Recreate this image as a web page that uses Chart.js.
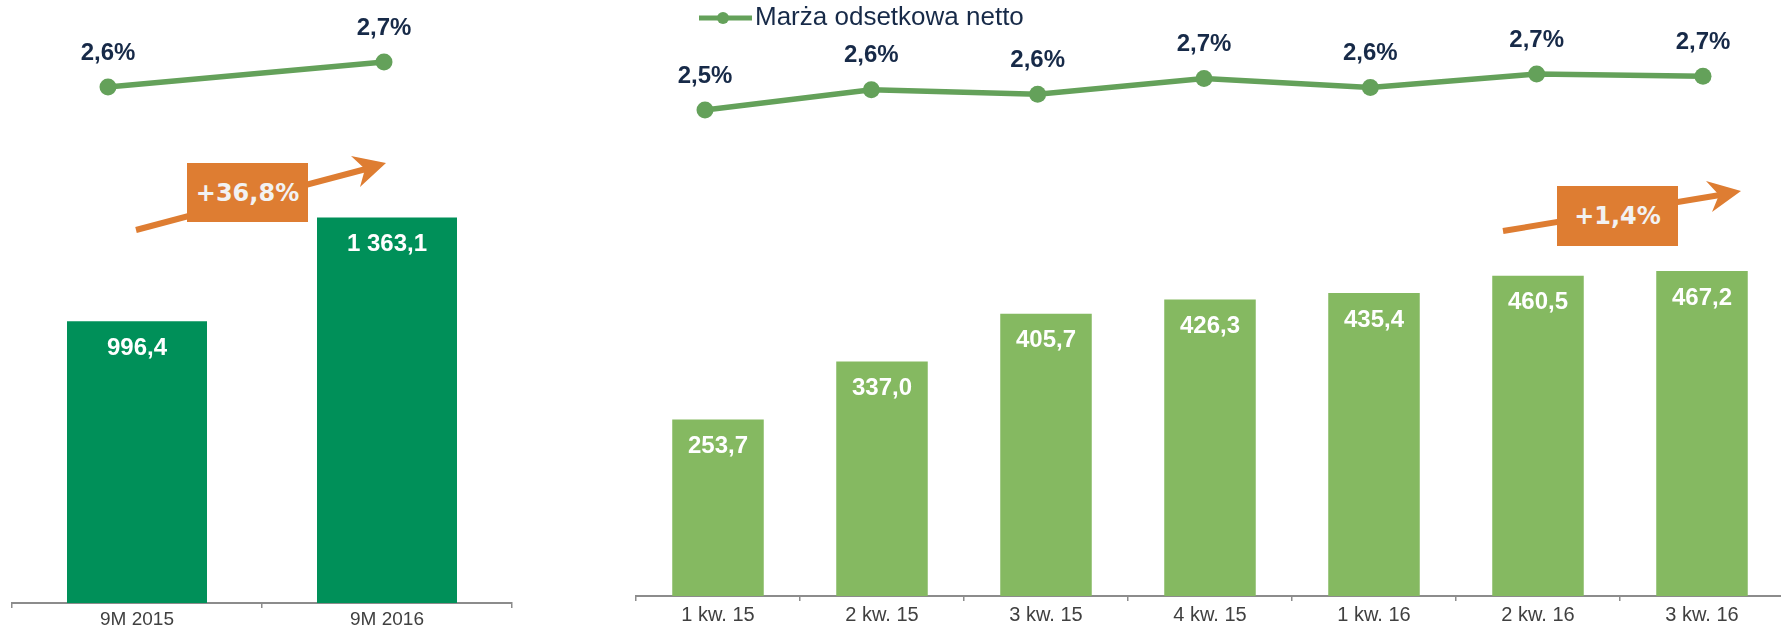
<!DOCTYPE html>
<html lang="pl">
<head>
<meta charset="utf-8">
<title>Wynik odsetkowy i marża odsetkowa netto</title>
<script src="https://cdn.jsdelivr.net/npm/chart.js@4.4.1/dist/chart.umd.min.js"></script>
<style>
  html, body { margin: 0; padding: 0; background: #fff; }
  body { width: 1781px; height: 625px; overflow: hidden; position: relative; }
  canvas { position: absolute; }
  svg.arrows { position: absolute; left: 0; top: 0; }
  .badge {
    position: absolute;
    background: #de7d32;
    color: #f2f2f2;
    font: bold 24px "DejaVu Sans", Verdana, sans-serif;
    display: flex; align-items: center; justify-content: center;
  }
</style>
</head>
<body>
<canvas id="leftLine" width="520" height="130" style="left:0;top:0"></canvas>
<canvas id="leftBar" width="520" height="481" style="left:0;top:150px"></canvas>
<canvas id="rightLine" width="1131" height="140" style="left:650px;top:0"></canvas>
<canvas id="rightBar" width="1170" height="479" style="left:626px;top:150px"></canvas>

<svg class="arrows" width="1781" height="625">
  <line x1="136" y1="230" x2="366" y2="169" stroke="#de7d32" stroke-width="6"/>
  <polygon points="386,163 351,156 365,169 360,187" fill="#de7d32"/>
  <line x1="1503" y1="231" x2="1720" y2="195" stroke="#de7d32" stroke-width="6"/>
  <polygon points="1741,191 1706,181 1719,195 1712,212" fill="#de7d32"/>
</svg>
<div class="badge" style="left:187px;top:163px;width:121px;height:59px">+36,8%</div>
<div class="badge" style="left:1557px;top:186px;width:121px;height:60px">+1,4%</div>

<script>
// dane
const periods = ["9M 2015", "9M 2016"];
const incomePeriods = [996.4, 1363.1];
const marginPeriods = [2.6, 2.7];

const quarters = ["1 kw. 15", "2 kw. 15", "3 kw. 15", "4 kw. 15", "1 kw. 16", "2 kw. 16", "3 kw. 16"];
const incomeQuarters = [253.7, 337.0, 405.7, 426.3, 435.4, 460.5, 467.2];
const marginQuarters = [2.52, 2.61, 2.59, 2.66, 2.62, 2.68, 2.67];

const FONT = "'Liberation Sans', Arial, sans-serif";
const LINE = "#64a15a";
const NAVY = "#172a48";
const GRID = "#8c8c8c";

function fmtNum(v) {
    const parts = v.toFixed(1).split(".");
    return parts[0].replace(/\B(?=(\d{3})+(?!\d))/g, " ") + "," + parts[1];
}

function fmtPct(v) {
    return v.toFixed(1).replace(".", ",") + "%";
}

// etykiety wartości rysowane przy elementach
function valueLabels(font, color, dy, format) {
    return {
        id: "valueLabels",
        afterDatasetsDraw(chart) {
            const ctx = chart.ctx;
            chart.data.datasets.forEach((ds, i) => {
                chart.getDatasetMeta(i).data.forEach((el, j) => {
                    const raw = ds.data[j];
                    const v = typeof raw === "object" ? raw.y : raw;
                    ctx.save();
                    ctx.font = font;
                    ctx.fillStyle = color;
                    ctx.textAlign = "center";
                    ctx.textBaseline = "middle";
                    ctx.fillText(format(v), el.x, el.y + dy);
                    ctx.restore();
                });
            });
        }
    };
}

// znacznik legendy: linia z kropką
const marker = document.createElement("canvas");
marker.width = 58;
marker.height = 14;
(function () {
    const c = marker.getContext("2d");
    c.strokeStyle = LINE;
    c.lineWidth = 5;
    c.beginPath();
    c.moveTo(0, 7);
    c.lineTo(58, 7);
    c.stroke();
    c.fillStyle = LINE;
    c.beginPath();
    c.arc(29, 7, 6, 0, Math.PI * 2);
    c.fill();
})();

const lineStyle = {
    borderColor: LINE,
    backgroundColor: LINE,
    pointBackgroundColor: LINE,
    borderWidth: 5.5,
    pointRadius: 8.5,
    pointBorderWidth: 0,
    tension: 0,
    clip: false
};

function xAxis(size, pad) {
    return {
        grid: { drawOnChartArea: false, tickLength: 5, color: GRID, lineWidth: 1.5 },
        border: { color: GRID, width: 2 },
        ticks: { color: "#404040", padding: pad, font: { size: size, family: FONT, lineHeight: 1 } }
    };
}

const base = {
    responsive: false,
    animation: false,
    devicePixelRatio: 1,
    events: []
};

// lewy panel
new Chart(document.getElementById("leftLine"), {
    type: "line",
    data: {
        labels: periods,
        datasets: [Object.assign({ label: "Marża odsetkowa netto", data: marginPeriods }, lineStyle)]
    },
    options: Object.assign({}, base, {
        layout: { autoPadding: false, padding: { left: 108, right: 136 } },
        plugins: { legend: { display: false }, tooltip: { enabled: false } },
        scales: {
            x: { display: false, offset: false },
            y: { display: false, min: 2.428, max: 2.948 }
        }
    }),
    plugins: [valueLabels("bold 24px " + FONT, NAVY, -34, fmtPct)]
});

new Chart(document.getElementById("leftBar"), {
    type: "bar",
    data: {
        labels: periods,
        datasets: [{
            label: "Wynik odsetkowy",
            data: incomePeriods,
            backgroundColor: "#009059",
            categoryPercentage: 1,
            barPercentage: 0.56
        }]
    },
    options: Object.assign({}, base, {
        layout: { padding: { left: 12, right: 8 } },
        plugins: { legend: { display: false }, tooltip: { enabled: false } },
        scales: {
            x: xAxis(19, 2),
            y: { display: false, min: 0, max: 1601.8 }
        }
    }),
    plugins: [valueLabels("bold 24px " + FONT, "#ffffff", 27, fmtNum)]
});

// prawy panel
new Chart(document.getElementById("rightLine"), {
    type: "line",
    data: {
        datasets: [Object.assign({
            label: "Marża odsetkowa netto",
            data: marginQuarters.map((v, i) => ({ x: i, y: v }))
        }, lineStyle)]
    },
    options: Object.assign({}, base, {
        layout: { autoPadding: false, padding: { left: 49 } },
        plugins: {
            legend: {
                position: "chartArea",
                align: "start",
                labels: {
                    usePointStyle: true,
                    pointStyle: marker,
                    pointStyleWidth: 38,
                    padding: 5,
                    color: NAVY,
                    font: { size: 26, family: FONT }
                }
            },
            tooltip: { enabled: false }
        },
        scales: {
            x: { type: "linear", display: false, min: -0.0361, max: 6.469 },
            y: { display: false, min: 2.3867, max: 3.0089 }
        }
    }),
    plugins: [valueLabels("bold 24px " + FONT, NAVY, -34, fmtPct)]
});

new Chart(document.getElementById("rightBar"), {
    type: "bar",
    data: {
        labels: quarters,
        datasets: [{
            label: "Wynik odsetkowy",
            data: incomeQuarters,
            backgroundColor: "#85b961",
            categoryPercentage: 1,
            barPercentage: 0.558
        }]
    },
    options: Object.assign({}, base, {
        layout: { padding: { left: 10, right: 12 } },
        plugins: { legend: { display: false }, tooltip: { enabled: false } },
        scales: {
            x: xAxis(20, 4),
            y: { display: false, min: 0, max: 641.1 }
        }
    }),
    plugins: [valueLabels("bold 24px " + FONT, "#ffffff", 27, fmtNum)]
});
</script>
</body>
</html>
